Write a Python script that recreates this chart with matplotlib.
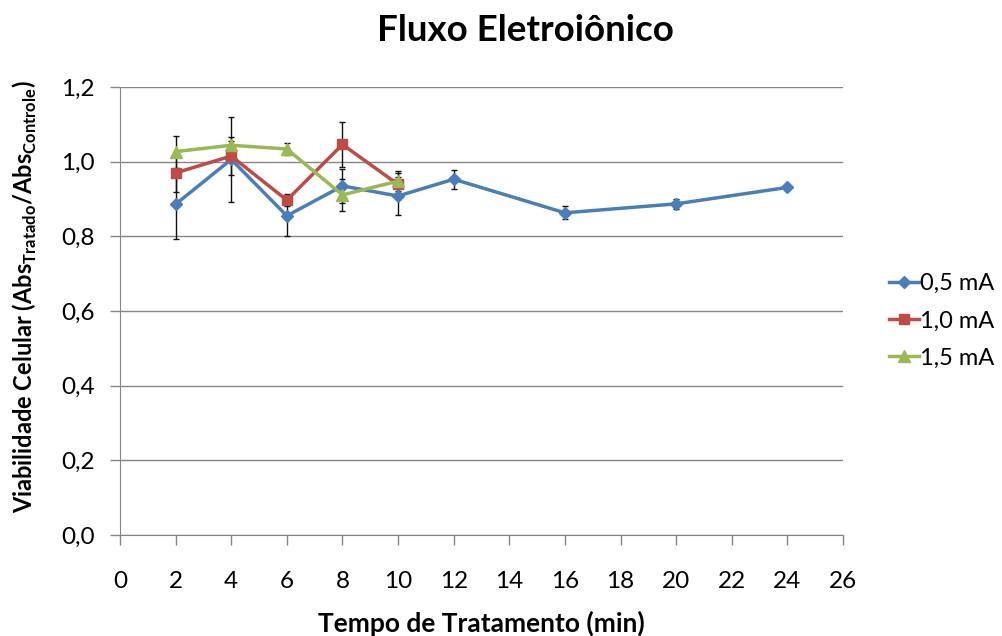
import matplotlib.pyplot as plt
import numpy as np

plt.rcParams['font.family'] = ['Lato', 'DejaVu Sans']
plt.rcParams['mathtext.fontset'] = 'custom'
plt.rcParams['mathtext.bf'] = 'Lato:bold'
plt.rcParams['mathtext.rm'] = 'Lato:bold'

# data
tempo_05 = [2, 4, 6, 8, 10, 12, 16, 20, 24]
viab_05 = [0.886, 1.006, 0.855, 0.935, 0.908, 0.953, 0.863, 0.887, 0.931]
err_05 = [0.094, 0.113, 0.055, 0.045, 0.050, 0.026, 0.017, 0.013, 0.008]

tempo_10 = [2, 4, 6, 8, 10]
viab_10 = [0.970, 1.015, 0.897, 1.046, 0.939]
err_10 = [0.050, 0.050, 0.016, 0.059, 0.030]

tempo_15 = [2, 4, 6, 8, 10]
viab_15 = [1.027, 1.044, 1.034, 0.911, 0.948]
err_15 = [0.043, 0.012, 0.017, 0.042, 0.027]

series = [
    (tempo_05, viab_05, err_05, '0,5 mA', '#4A7EBB', 'D', 6),
    (tempo_10, viab_10, err_10, '1,0 mA', '#BE4B48', 's', 7.5),
    (tempo_15, viab_15, err_15, '1,5 mA', '#98B954', '^', 8.5),
]

fig = plt.figure(figsize=(10.03, 6.36), dpi=100)
ax = fig.add_axes([120 / 1003, 1 - 535 / 636, 723 / 1003, 448 / 636])

for t, v, e, lab, col, mk, ms in series:
    ax.errorbar(t, v, yerr=e, fmt='none', ecolor='#111111', elinewidth=1.0,
                capsize=2.5, capthick=1.0, zorder=2)
    ax.plot(t, v, color=col, marker=mk, markersize=ms, linewidth=2.5,
            label=lab, zorder=3)

ax.set_xlim(0, 26)
ax.set_ylim(0, 1.2)
ax.set_xticks(np.arange(0, 27, 2))
ax.set_yticks(np.arange(0, 1.21, 0.2))
ax.set_yticklabels([f'{v:.1f}'.replace('.', ',') for v in np.arange(0, 1.21, 0.2)])
ax.tick_params(axis='both', labelsize=17.5, color='#868686', length=7, width=1)
ax.tick_params(axis='x', pad=19)
ax.tick_params(axis='y', pad=11)

ax.grid(axis='y', color='#868686', linewidth=1)
ax.set_axisbelow(True)
for s in ['top', 'right']:
    ax.spines[s].set_visible(False)
for s in ['left', 'bottom']:
    ax.spines[s].set_color('#868686')

ax.set_xlabel('Tempo de Tratamento (min)', fontsize=19, fontweight='bold', labelpad=13)
ax.set_ylabel(r'Viabilidade Celular (Abs$_{\mathbf{Tratado}}$/Abs$_{\mathbf{Controle}}$)',
              fontsize=17, fontweight='bold')
ax.yaxis.set_label_coords(-0.112, 0.533)
fig.text(0.524, 0.952, 'Fluxo Eletroiônico', fontsize=26.5, fontweight='bold',
         ha='center', va='center')

ax.legend(loc='center left', bbox_to_anchor=(1.063, 0.478), frameon=False,
          borderaxespad=0, borderpad=0, fontsize=17, handlelength=1.27,
          handletextpad=0.05, labelspacing=0.68)

fig.savefig('out.png', dpi=100)
